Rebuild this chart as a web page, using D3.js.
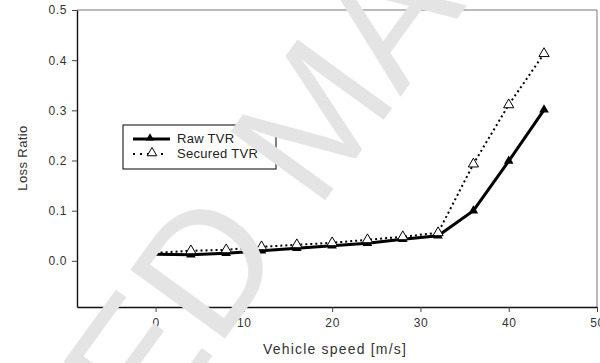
<!DOCTYPE html>
<html lang="en">
<head>
<meta charset="utf-8">
<script src="https://d3js.org/d3.v7.min.js"></script>
<style>
  body { margin: 0; background: #fff; }
  svg { font-family: "Liberation Sans", Arial, sans-serif; }
</style>
</head>
<body>
<svg width="600" height="363"></svg>
<script>
// data
var speeds = [0, 4, 8, 12, 16, 20, 24, 28, 32, 36, 40, 44];
var rawTVR = [0.013, 0.012, 0.015, 0.02, 0.025, 0.03, 0.035, 0.043, 0.05, 0.1, 0.199, 0.301];
var securedTVR = [0.016, 0.02, 0.022, 0.028, 0.032, 0.036, 0.042, 0.048, 0.056, 0.193, 0.311, 0.413];
var xTicks = [0, 10, 20, 30, 40, 50];
var yTicks = [0.0, 0.1, 0.2, 0.3, 0.4, 0.5];

var svg = d3.select("svg");
var plotL = 77, plotR = 597, plotT = 10, plotB = 307;

var x = d3.scaleLinear().domain([-8.9, 50]).range([plotL, plotR]);
var y = d3.scaleLinear().domain([-0.092, 0.5]).range([plotB, plotT]);

// frame (top and right in grey)
svg.append("line").attr("x1", plotL).attr("x2", plotR).attr("y1", plotT).attr("y2", plotT)
  .attr("stroke", "#777").attr("stroke-width", 1);
svg.append("line").attr("x1", plotR).attr("x2", plotR).attr("y1", plotT).attr("y2", plotB)
  .attr("stroke", "#777").attr("stroke-width", 1);

var gx = svg.append("g").attr("transform", "translate(0," + plotB + ")")
  .call(d3.axisBottom(x).tickValues(xTicks).tickSize(5).tickSizeOuter(0).tickPadding(6).tickFormat(d3.format("d")));
var gy = svg.append("g").attr("transform", "translate(" + plotL + ",0)")
  .call(d3.axisLeft(y).tickValues(yTicks).tickSize(5).tickSizeOuter(0).tickPadding(5).tickFormat(d3.format(".1f")));

[gx, gy].forEach(function (g) {
  g.select(".domain").attr("stroke", "#111").attr("stroke-width", 1.4);
  g.selectAll(".tick line").attr("stroke", "#444");
  g.selectAll(".tick text").attr("fill", "#333")
    .style("font-size", "12px").style("letter-spacing", "0.6px");
});

// axis titles
svg.append("text")
  .attr("transform", "translate(27,158) rotate(-90)")
  .attr("text-anchor", "middle")
  .attr("fill", "#333")
  .style("font-size", "13px")
  .style("letter-spacing", "0.4px")
  .text("Loss Ratio");
svg.append("text")
  .attr("x", 335).attr("y", 354)
  .attr("text-anchor", "middle")
  .attr("fill", "#333")
  .style("font-size", "14px")
  .style("letter-spacing", "1.2px")
  .text("Vehicle speed [m/s]");

var rows = speeds.map(function (s, i) {
  return { s: s, raw: rawTVR[i], sec: securedTVR[i] };
});

var tri = d3.symbol().type(d3.symbolTriangle);

// secured: dotted line, open triangles
svg.append("path")
  .datum(rows)
  .attr("fill", "none")
  .attr("stroke", "#000")
  .attr("stroke-width", 2)
  .attr("stroke-dasharray", "2,3")
  .attr("d", d3.line().x(function (d) { return x(d.s); }).y(function (d) { return y(d.sec); }));

// raw: solid thick line, filled triangles
svg.append("path")
  .datum(rows)
  .attr("fill", "none")
  .attr("stroke", "#000")
  .attr("stroke-width", 3)
  .attr("d", d3.line().x(function (d) { return x(d.s); }).y(function (d) { return y(d.raw); }));

svg.selectAll(".rawpt")
  .data(rows.slice(1))
  .enter().append("path")
  .attr("class", "rawpt")
  .attr("transform", function (d) { return "translate(" + x(d.s) + "," + y(d.raw) + ")"; })
  .attr("d", tri.size(40))
  .attr("fill", "#000");

svg.selectAll(".secpt")
  .data(rows.slice(1))
  .enter().append("path")
  .attr("class", "secpt")
  .attr("transform", function (d) { return "translate(" + x(d.s) + "," + y(d.sec) + ")"; })
  .attr("d", tri.size(45))
  .attr("fill", "#fff")
  .attr("stroke", "#000")
  .attr("stroke-width", 1);

// legend
var lg = svg.append("g").attr("transform", "translate(123,125)");
lg.append("rect").attr("width", 153).attr("height", 44)
  .attr("fill", "#fff").attr("stroke", "#000").attr("stroke-width", 1);
lg.append("line").attr("x1", 10).attr("x2", 47).attr("y1", 14).attr("y2", 14)
  .attr("stroke", "#000").attr("stroke-width", 3);
lg.append("path").attr("transform", "translate(27,13)").attr("d", tri.size(30)).attr("fill", "#000");
lg.append("line").attr("x1", 10).attr("x2", 45).attr("y1", 29).attr("y2", 29)
  .attr("stroke", "#000").attr("stroke-width", 2).attr("stroke-dasharray", "2,5");
lg.append("path").attr("transform", "translate(29,28)").attr("d", tri.size(40))
  .attr("fill", "#fff").attr("stroke", "#000");
lg.append("text").attr("x", 54).attr("y", 18).style("font-size", "13px")
  .style("letter-spacing", "0.3px").attr("fill", "#222").text("Raw TVR");
lg.append("text").attr("x", 54).attr("y", 33).style("font-size", "13px")
  .style("letter-spacing", "0.3px").attr("fill", "#222").text("Secured TVR");

// watermark, split at the word gap
var wm = svg.append("g")
  .attr("transform", "translate(303,231) rotate(-54)")
  .attr("fill", "#e4e4e4")
  .style("font-size", "170px");
wm.append("text").attr("x", -24).attr("y", 0).attr("text-anchor", "end").text("ACCEPTED");
wm.append("text").attr("x", 24).attr("y", 0).attr("text-anchor", "start").text("MANUSCRIPT");
</script>
</body>
</html>
